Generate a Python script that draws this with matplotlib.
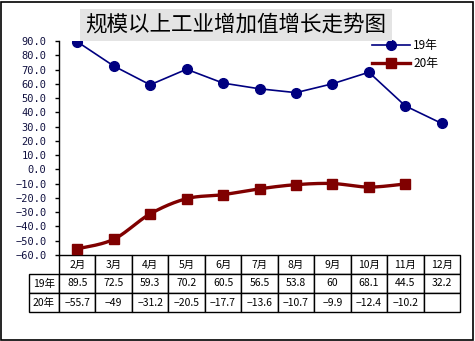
import matplotlib
matplotlib.use("Agg")
import matplotlib.pyplot as plt
import numpy as np
from matplotlib.patches import Rectangle

plt.rcParams['font.family'] = ['Noto Sans CJK SC', 'DejaVu Sans']

title = "规模以上工业增加值增长走势图"
months = ["2月", "3月", "4月", "5月", "6月", "7月", "8月", "9月", "10月", "11月", "12月"]
series_names = ["19年", "20年"]
y19 = [89.5, 72.5, 59.3, 70.2, 60.5, 56.5, 53.8, 60, 68.1, 44.5, 32.2]
y20 = [-55.7, -49, -31.2, -20.5, -17.7, -13.6, -10.7, -9.9, -12.4, -10.2, None]
yticks = list(range(-60, 91, 10))

W, H = 475, 341
fig = plt.figure(figsize=(W / 100, H / 100), dpi=100)
fig.patch.set_facecolor("white")
fig.patches.append(Rectangle((1 / W, 1 / H), (W - 3) / W, (H - 3) / H, transform=fig.transFigure,
                             fill=False, edgecolor="black", linewidth=1.2))

ax_l, ax_r, ax_top, ax_bot = 59, 460, 41, 255
ax = fig.add_axes([ax_l / W, (H - ax_bot) / H, (ax_r - ax_l) / W, (ax_bot - ax_top) / H])
n = len(months)
x = np.arange(n)
ax.set_xlim(-0.5, n - 0.5)
ax.set_ylim(-60, 90)

# 19年 straight line
ax.plot(x, y19, color="#000080", linewidth=1.2, marker="o", markersize=7,
        markerfacecolor="#000080", markeredgecolor="#000080", label=series_names[0], zorder=3)

# 20年 smoothed line (Catmull-Rom through data points)
pts = [(xi, yi) for xi, yi in zip(x, y20) if yi is not None]
px = np.array([p[0] for p in pts], dtype=float)
py = np.array([p[1] for p in pts], dtype=float)
sx, sy = [], []
for i in range(len(px) - 1):
    p0 = (px[max(i - 1, 0)], py[max(i - 1, 0)])
    p1 = (px[i], py[i])
    p2 = (px[i + 1], py[i + 1])
    p3 = (px[min(i + 2, len(px) - 1)], py[min(i + 2, len(px) - 1)])
    t = np.linspace(0, 1, 20, endpoint=False)
    for P, out in ((0, sx), (1, sy)):
        a0, a1, a2, a3 = p0[P], p1[P], p2[P], p3[P]
        out.extend(0.5 * ((2 * a1) + (-a0 + a2) * t + (2 * a0 - 5 * a1 + 4 * a2 - a3) * t ** 2
                          + (-a0 + 3 * a1 - 3 * a2 + a3) * t ** 3))
sx.append(px[-1]); sy.append(py[-1])
ax.plot(sx, sy, color="#800000", linewidth=2.4, zorder=3)
ax.plot(px, py, linestyle="none", marker="s", markersize=7, color="#800000", zorder=4)
ax.plot([], [], color="#800000", linewidth=2.4, marker="s", markersize=7, label=series_names[1])

for s in ["top", "right", "bottom"]:
    ax.spines[s].set_visible(False)
ax.spines["left"].set_color("black")
ax.spines["left"].set_linewidth(1)
ax.set_xticks([])
ax.set_yticks(yticks)
ax.set_yticklabels([f"{v:.1f}".replace("-", "−") for v in yticks], fontsize=7.5, color="#101040",
                   family=["DejaVu Sans Mono"])
ax.tick_params(axis="y", direction="out", length=3, width=1, pad=6)

leg = ax.legend(loc="upper left", bbox_to_anchor=(372 / W, (H - 39) / H), bbox_transform=fig.transFigure,
                frameon=False, fontsize=8.5, handlelength=3.2, handletextpad=0.3, labelspacing=0.45,
                borderaxespad=0, borderpad=0)

# Title
fig.text(236 / W, (H - 25) / H, title, ha="center", va="center", fontsize=15.5,
         bbox=dict(boxstyle="square,pad=0.25", facecolor="#e4e4e4", edgecolor="none"))

# Table
def fmt(v):
    if v is None:
        return ""
    s = f"{v:g}"
    return s.replace("-", "−")

cell_text = [[""] + months,
             [series_names[0]] + [fmt(v) for v in y19],
             [series_names[1]] + [fmt(v) for v in y20]]
tab_l, tab_top, tab_bot = 29, 255, 312
ax_w, ax_h = ax_r - ax_l, ax_bot - ax_top
col_w = (ax_r - ax_l) / n
widths = [(ax_l - tab_l) / (ax_r - tab_l)] + [col_w / (ax_r - tab_l)] * n
tbl = ax.table(cellText=cell_text, colWidths=widths, cellLoc="center",
               bbox=[(tab_l - ax_l) / ax_w, -(tab_bot - tab_top) / ax_h, (ax_r - tab_l) / ax_w,
                     (tab_bot - tab_top) / ax_h])
tbl.auto_set_font_size(False)
for (r, c), cell in tbl.get_celld().items():
    cell.set_fontsize(7.5)
    cell.set_linewidth(1)
    cell.set_edgecolor("black")
    cell.PAD = 0.02
    if r == 0 and c == 0:
        cell.visible_edges = ""
tbl.set_clip_on(False)

fig.savefig("out.png", dpi=100, facecolor="white")
